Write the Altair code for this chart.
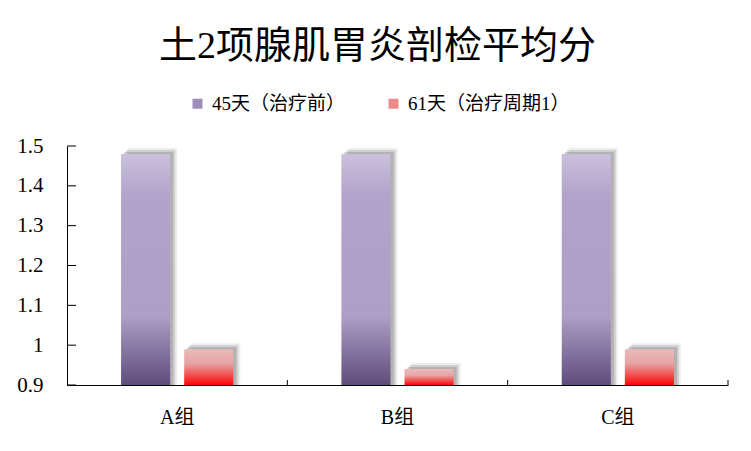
import altair as alt
import pandas as pd

categories = ["A组", "B组", "C组"]
series_names = ["45天（治疗前）", "61天（治疗周期1）"]
before_vals = [1.48, 1.48, 1.48]
after_vals = [0.99, 0.94, 0.99]
y_ticks = [0.9, 1.0, 1.1, 1.2, 1.3, 1.4, 1.5]

rows = []
for c, b, a in zip(categories, before_vals, after_vals):
    rows.append({"cat": c, "series": series_names[0], "value": b})
    rows.append({"cat": c, "series": series_names[1], "value": a})
df = pd.DataFrame(rows)
tick_df = pd.DataFrame({"value": y_ticks})
cat_df = pd.DataFrame({"cat": categories})

FONT = "Liberation Serif, Times New Roman, Noto Sans CJK SC"
W, H = 661, 239
PI, PO = 0.222, 0.857

grad_purple = {
    "gradient": "linear", "x1": 0, "y1": 0, "x2": 0, "y2": 1,
    "stops": [
        {"offset": 0, "color": "#cbc0dc"},
        {"offset": 0.18, "color": "#b1a3ca"},
        {"offset": 0.7, "color": "#ad9fc6"},
        {"offset": 1, "color": "#5f4c7c"},
    ],
}
grad_red = {
    "gradient": "linear", "x1": 0, "y1": 0, "x2": 0, "y2": 1,
    "stops": [
        {"offset": 0, "color": "#ebbaba"},
        {"offset": 0.4, "color": "#e6a4a4"},
        {"offset": 1, "color": "#ff0606"},
    ],
}

x_scale = alt.Scale(paddingInner=0, paddingOuter=0)
x_axis = alt.Axis(labelFont=FONT, labelFontSize=20, labelColor="black",
                  labelPadding=22, ticks=False, domainColor="black", labelAngle=0)
y_scale = alt.Scale(domain=[0.9, 1.5], zero=False, nice=False)
y_axis = alt.Axis(values=y_ticks, format=".2~g", labelFont=FONT,
                  labelFontSize=21, labelColor="black", labelPadding=24,
                  labelOverlap=False, ticks=False, grid=False, domainColor="black")

x_enc = alt.X("cat:N", sort=categories, title=None, scale=x_scale, axis=x_axis)
y_enc = alt.Y("value:Q", title=None, scale=y_scale, axis=y_axis)


def xo(shift=0):
    return alt.XOffset("series:N", sort=series_names,
                       scale=alt.Scale(paddingInner=PI, paddingOuter=PO,
                                       align=(54 + shift) / 108))


def base(shift=0):
    return alt.Chart(df).encode(x=x_enc, xOffset=xo(shift), y=y_enc,
                                y2=alt.datum(0.9))


shadow0 = base(7).mark_bar(color="#999999", opacity=0.18, yOffset=-6)
shadow1 = base(5).mark_bar(color="#8c8c8c", opacity=0.3, yOffset=-4)
shadow2 = base(3).mark_bar(color="#7c7c7c", opacity=0.35, yOffset=-2)

legend_layer = base().mark_bar(opacity=0).encode(
    color=alt.Color("series:N", sort=series_names,
                    scale=alt.Scale(domain=series_names, range=["#9d8db8", "#ee8a8a"]),
                    legend=alt.Legend(title=None, orient="none", direction="horizontal",
                                      legendX=121, legendY=-52, symbolType="square",
                                      symbolSize=100, symbolOpacity=1, symbolStrokeWidth=0,
                                      labelFont=FONT, labelFontSize=19, labelColor="black",
                                      labelOffset=5, columnPadding=38, padding=0,
                                      labelLimit=400))
)

bars = base().mark_bar().encode(
    fill=alt.condition(f"datum.series === '{series_names[0]}'",
                       alt.value(grad_purple), alt.value(grad_red))
)

yticks = alt.Chart(tick_df).mark_rule(color="black", strokeWidth=1).encode(
    y=y_enc, x=alt.value(0), x2=alt.value(9)
)
xticks = alt.Chart(cat_df).mark_rule(color="black", strokeWidth=1).encode(
    x=alt.X("cat:N", sort=categories, title=None, bandPosition=1,
            scale=x_scale, axis=x_axis),
    y=alt.value(H), y2=alt.value(H - 5)
)

chart = alt.layer(shadow0, shadow1, shadow2, legend_layer, bars, yticks, xticks).resolve_scale(
    xOffset="independent"
).properties(
    width=W, height=H,
    background="white",
    autosize=alt.AutoSizeParams(type="none"),
    padding={"left": 59, "top": 138, "right": 6, "bottom": 50},
    title=alt.TitleParams("土2项腺肌胃炎剖检平均分", font=FONT, fontSize=38,
                          fontWeight="normal", color="black", anchor="middle",
                          dx=-20, offset=28),
).configure_view(stroke=None)

chart.save("out.html", embed_options={"renderer": "svg", "actions": False})
